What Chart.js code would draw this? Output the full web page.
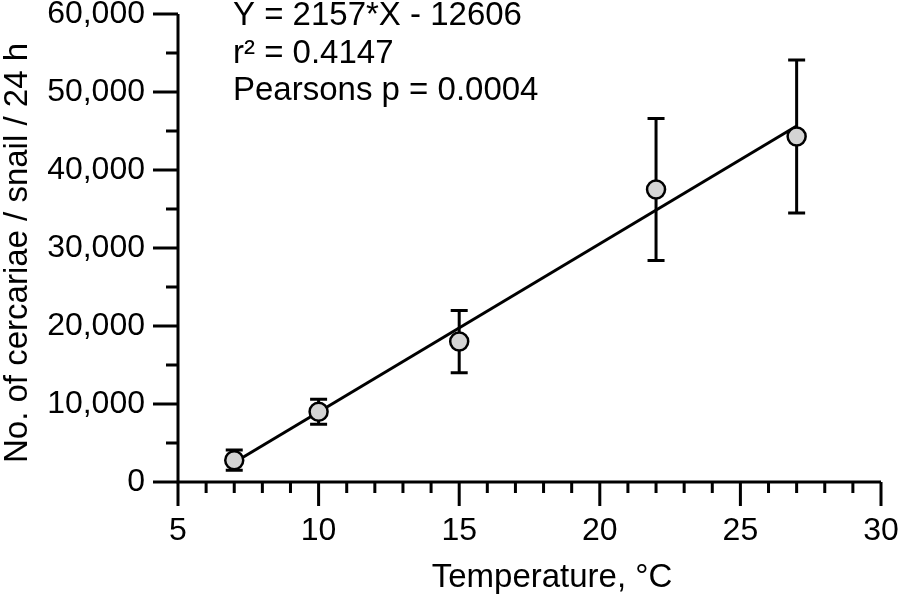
<!DOCTYPE html>
<html lang="en">
<head>
  <meta charset="UTF-8" />
  <title>Cercariae per snail vs temperature</title>
  <script src="https://cdn.jsdelivr.net/npm/chart.js"></script>
  <style>
    html, body { margin: 0; padding: 0; background: #fff; }
    #wrap { width: 899px; height: 598px; }
  </style>
</head>
<body>
  <div id="wrap"><canvas id="chart"></canvas></div>

  <script>
    // data
    const temps = [7, 10, 15, 22, 27];
    const cercariae = [2800, 9000, 18000, 37500, 44300];
    const errSD = [1300, 1600, 4000, 9100, 9800];

    // regression line end points (Y = 2157*X - 12606)
    const fitX = [7, 27];
    const fitY = [2493, 45633];

    const xTickLabels = ['5', '10', '15', '20', '25', '30'];
    const yTickLabels = ['0', '10,000', '20,000', '30,000', '40,000', '50,000', '60,000'];
    const statLines = ['Y = 2157*X - 12606', 'r\u00b2 = 0.4147', 'Pearsons p = 0.0004'];
    const xTitle = 'Temperature, \u00b0C';
    const yTitle = 'No. of cercariae / snail / 24 h';

    const FONT = '"Liberation Sans", Arial, sans-serif';

    // axes, tick marks, error bars and the text block are drawn here
    const figurePlugin = {
      id: 'figure',
      beforeDatasetDraw(chart, args) {
        if (args.index !== 0) return;
        const ctx = chart.ctx;
        const xs = chart.scales.x, ys = chart.scales.y;
        ctx.save();
        ctx.strokeStyle = '#000';
        ctx.lineWidth = 3;
        temps.forEach((t, i) => {
          const px = xs.getPixelForValue(t);
          const top = ys.getPixelForValue(cercariae[i] + errSD[i]);
          const bot = ys.getPixelForValue(cercariae[i] - errSD[i]);
          ctx.beginPath();
          ctx.moveTo(px, top); ctx.lineTo(px, bot);
          ctx.moveTo(px - 8.5, top); ctx.lineTo(px + 8.5, top);
          ctx.moveTo(px - 8.5, bot); ctx.lineTo(px + 8.5, bot);
          ctx.stroke();
        });
        ctx.restore();
      },
      afterDraw(chart) {
        const ctx = chart.ctx;
        const area = chart.chartArea;
        const xs = chart.scales.x, ys = chart.scales.y;
        ctx.save();
        ctx.strokeStyle = '#000';
        ctx.lineWidth = 3;
        ctx.beginPath();
        ctx.moveTo(area.left, area.top);
        ctx.lineTo(area.left, area.bottom);
        ctx.lineTo(area.right, area.bottom);
        ctx.stroke();

        // tick marks
        ctx.beginPath();
        xs.ticks.forEach(t => {
          const px = xs.getPixelForValue(t.value);
          const len = t.value % 5 === 0 ? 24 : 11;
          ctx.moveTo(px, area.bottom);
          ctx.lineTo(px, area.bottom + len);
        });
        ys.ticks.forEach(t => {
          const py = ys.getPixelForValue(t.value);
          const len = t.value % 10000 === 0 ? 25 : 12;
          ctx.moveTo(area.left, py);
          ctx.lineTo(area.left - len, py);
        });
        ctx.stroke();

        // axis titles
        ctx.fillStyle = '#000';
        ctx.font = '33px ' + FONT;
        ctx.textAlign = 'center';
        ctx.textBaseline = 'alphabetic';
        ctx.fillText(xTitle, 552, 587);
        ctx.save();
        ctx.translate(27, 253);
        ctx.rotate(-Math.PI / 2);
        ctx.fillText(yTitle, 0, 0);
        ctx.restore();

        // regression statistics
        ctx.textAlign = 'left';
        statLines.forEach((s, i) => {
          ctx.fillText(s, 233, 25 + i * 37.5);
        });
        ctx.restore();
      }
    };

    new Chart(document.getElementById('chart'), {
      type: 'scatter',
      data: {
        datasets: [
          {
            label: 'Cercariae',
            data: temps.map((t, i) => ({ x: t, y: cercariae[i] })),
            pointRadius: 9,
            pointHoverRadius: 9,
            borderWidth: 2.5,
            borderColor: '#000',
            backgroundColor: '#d4d4d4'
          },
          {
            type: 'line',
            label: 'Fit',
            data: fitX.map((x, i) => ({ x: x, y: fitY[i] })),
            showLine: true,
            pointRadius: 0,
            borderWidth: 3,
            borderColor: '#000',
            fill: false
          }
        ]
      },
      options: {
        responsive: true,
        maintainAspectRatio: false,
        animation: false,
        devicePixelRatio: 1,
        layout: { padding: { left: 0, top: 14, right: 18, bottom: 0 } },
        plugins: {
          legend: { display: false },
          tooltip: { enabled: false }
        },
        scales: {
          x: {
            type: 'linear',
            min: 5,
            max: 30,
            grid: { display: false, drawTicks: false },
            border: { display: false },
            ticks: {
              stepSize: 1,
              autoSkip: false,
              maxRotation: 0,
              padding: 30,
              color: '#000',
              font: { family: FONT, size: 32 },
              callback: v => (v % 5 === 0 ? xTickLabels[(v - 5) / 5] : '')
            },
            afterFit: s => {
              s.height = 116;
              s.paddingLeft = 0;
              s.paddingRight = 0;
            }
          },
          y: {
            min: 0,
            max: 60000,
            grid: { display: false, drawTicks: false },
            border: { display: false },
            ticks: {
              stepSize: 5000,
              autoSkip: false,
              padding: 33,
              color: '#000',
              font: { family: FONT, size: 32 },
              callback: v => (v % 10000 === 0 ? yTickLabels[v / 10000] : '')
            },
            afterFit: s => {
              s.width = 178;
              s.paddingTop = 0;
              s.paddingBottom = 0;
            }
          }
        }
      },
      plugins: [figurePlugin]
    });
  </script>
</body>
</html>
